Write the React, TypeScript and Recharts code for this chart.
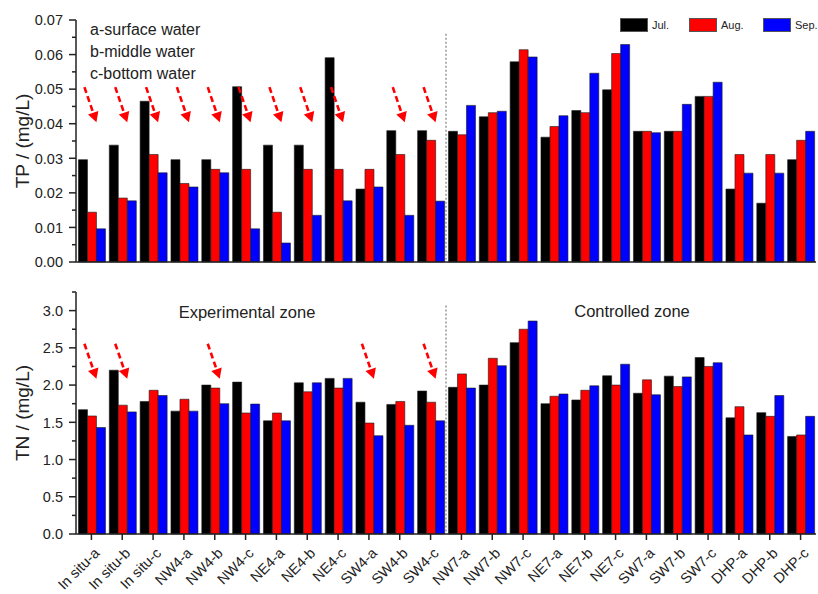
import React from "react";
import { BarChart, Bar, XAxis, YAxis, ReferenceDot, ReferenceArea } from "recharts";

const sites = [
  "In situ-a", "In situ-b", "In situ-c", "NW4-a", "NW4-b", "NW4-c",
  "NE4-a", "NE4-b", "NE4-c", "SW4-a", "SW4-b", "SW4-c",
  "NW7-a", "NW7-b", "NW7-c", "NE7-a", "NE7-b", "NE7-c",
  "SW7-a", "SW7-b", "SW7-c", "DHP-a", "DHP-b", "DHP-c",
];

const months = ["Jul.", "Aug.", "Sep."];
const monthKeys = ["jul", "aug", "sep"];
const monthColors = ["#000000", "#ff0000", "#0000ff"];

const tpJul = [0.0296, 0.0338, 0.0465, 0.0296, 0.0296, 0.0507, 0.0338, 0.0338, 0.0591, 0.0211, 0.038, 0.038, 0.0378, 0.042, 0.0579, 0.0361, 0.0438, 0.0498, 0.0378, 0.0378, 0.0479, 0.0211, 0.017, 0.0296];
const tpAug = [0.0144, 0.0185, 0.0311, 0.0227, 0.0268, 0.0268, 0.0144, 0.0268, 0.0268, 0.0268, 0.0311, 0.0352, 0.0368, 0.0432, 0.0614, 0.0392, 0.0432, 0.0603, 0.0378, 0.0378, 0.0479, 0.0311, 0.0311, 0.0352];
const tpSep = [0.0096, 0.0177, 0.0258, 0.0217, 0.0258, 0.0096, 0.0055, 0.0135, 0.0177, 0.0217, 0.0135, 0.0176, 0.0453, 0.0436, 0.0593, 0.0423, 0.0546, 0.0629, 0.0374, 0.0456, 0.052, 0.0257, 0.0257, 0.0378];

const tnJul = [1.67, 2.2, 1.78, 1.65, 2.0, 2.04, 1.52, 2.03, 2.09, 1.77, 1.74, 1.92, 1.97, 2.0, 2.57, 1.75, 1.8, 2.125, 1.89, 2.12, 2.37, 1.56, 1.63, 1.31];
const tnAug = [1.585, 1.73, 1.93, 1.81, 1.96, 1.625, 1.625, 1.91, 1.96, 1.49, 1.78, 1.77, 2.15, 2.36, 2.75, 1.85, 1.93, 2.0, 2.07, 1.98, 2.25, 1.71, 1.58, 1.33];
const tnSep = [1.43, 1.64, 1.86, 1.65, 1.75, 1.745, 1.52, 2.03, 2.09, 1.32, 1.46, 1.52, 1.96, 2.26, 2.86, 1.88, 1.99, 2.28, 1.87, 2.11, 2.3, 1.33, 1.86, 1.58];

// major + minor ticks
const tpTicks = [0, 0.005, 0.01, 0.015, 0.02, 0.025, 0.03, 0.035, 0.04, 0.045, 0.05, 0.055, 0.06, 0.065, 0.07];
const tnTicks = [0, 0.25, 0.5, 0.75, 1, 1.25, 1.5, 1.75, 2, 2.25, 2.5, 2.75, 3, 3.25];

// sites marked with red arrows
const tpArrowSites = ["In situ-a", "In situ-b", "In situ-c", "NW4-a", "NW4-b", "NW4-c", "NE4-a", "NE4-b", "NE4-c", "SW4-b", "SW4-c"];
const tnArrowSites = ["In situ-a", "In situ-b", "NW4-b", "SW4-a", "SW4-c"];
const tpArrowLevel = 0.0455;
const tnArrowLevel = 2.32;

const depthNotes = ["a-surface water", "b-middle water", "c-bottom water"];

const tpData = sites.map((site, i) => ({ site, jul: tpJul[i], aug: tpAug[i], sep: tpSep[i] }));
const tnData = sites.map((site, i) => ({ site, jul: tnJul[i], aug: tnAug[i], sep: tnSep[i] }));

const AXIS_X = 76;
const INK = "#222";
const FONT = '"Liberation Sans", Arial, sans-serif';

function makeYTick(isMajor: (v: number) => boolean, fmt: (v: number) => string) {
  return (props: any) => {
    const { y, payload } = props;
    const major = isMajor(payload.value);
    return (
      <g>
        <line x1={AXIS_X - (major ? 7 : 4)} x2={AXIS_X} y1={y} y2={y} stroke={INK} strokeWidth={1.5} />
        {major && (
          <text x={AXIS_X - 13} y={y} dy="0.36em" textAnchor="end" fontSize={14.5} fill={INK} fontFamily={FONT}>
            {fmt(payload.value)}
          </text>
        )}
      </g>
    );
  };
}

const TpTick = makeYTick((v) => Math.abs(v * 100 - Math.round(v * 100)) < 1e-6, (v) => v.toFixed(2));
const TnTick = makeYTick((v) => Math.abs(v * 2 - Math.round(v * 2)) < 1e-6, (v) => v.toFixed(1));

const SiteTick = (props: any) => {
  const { x, y, payload } = props;
  return (
    <g transform={`translate(${x + 9},${y + 12})`}>
      <text textAnchor="end" transform="rotate(-45)" fontSize={14.5} fill={INK} fontFamily={FONT}>
        {payload.value}
      </text>
    </g>
  );
};

const Arrow = (props: any) => {
  const { cx, cy } = props;
  const x1 = cx - 7, y1 = cy - 17.5, x2 = cx + 5, y2 = cy + 17.5;
  const len = Math.hypot(x2 - x1, y2 - y1);
  const ux = (x2 - x1) / len, uy = (y2 - y1) / len;
  const bx = x2 - ux * 10, by = y2 - uy * 10;
  const pts = `${x2},${y2} ${bx - uy * 5.5},${by + ux * 5.5} ${bx + uy * 5.5},${by - ux * 5.5}`;
  return (
    <g>
      <line x1={x1} y1={y1} x2={bx} y2={by} stroke="#ff0000" strokeWidth={2.6} strokeDasharray="6 3.5" />
      <polygon points={pts} fill="#ff0000" />
    </g>
  );
};

const Divider = (props: any) => {
  const { x, y, height } = props;
  return <line x1={x} x2={x} y1={y} y2={y + height} stroke="#888" strokeWidth={1.3} strokeDasharray="2 2" />;
};

const axisStyle = { stroke: INK, strokeWidth: 1.5 };

export default function App() {
  const bars = monthKeys.map((k, i) => (
    <Bar key={k} dataKey={k} name={months[i]} fill={monthColors[i]} stroke="#1a1a1a" strokeWidth={0.6} isAnimationActive={false} />
  ));
  return (
    <div style={{ position: "absolute", left: 0, top: 0, width: 818, height: 594, background: "#fff", overflow: "hidden", fontFamily: FONT }}>
      <BarChart width={818} height={280} data={tpData} margin={{ top: 20, right: 2, left: 0, bottom: 0 }} barCategoryGap="8%" barGap={0}>
        <XAxis dataKey="site" interval={0} height={18} tick={false} tickSize={6} tickLine={axisStyle} axisLine={axisStyle} />
        <YAxis width={AXIS_X} domain={[0, 0.07]} ticks={tpTicks} interval={0} tickLine={false} tick={TpTick} axisLine={axisStyle} />
        {bars}
        <ReferenceArea x1="NW7-a" x2="NW7-a" y1={0} y2={0.066} shape={Divider} />
        {tpArrowSites.map((s) => (
          <ReferenceDot key={s} x={s} y={tpArrowLevel} shape={Arrow} />
        ))}
      </BarChart>
      <BarChart width={818} height={314} data={tnData} margin={{ top: 12, right: 2, left: 0, bottom: 0 }} barCategoryGap="8%" barGap={0}>
        <XAxis dataKey="site" interval={0} height={60} tick={SiteTick} tickSize={6} tickMargin={2} tickLine={axisStyle} axisLine={axisStyle} />
        <YAxis width={AXIS_X} domain={[0, 3.25]} ticks={tnTicks} interval={0} tickLine={false} tick={TnTick} axisLine={axisStyle} />
        {bars}
        <ReferenceArea x1="NW7-a" x2="NW7-a" y1={0} y2={3.07} shape={Divider} />
        {tnArrowSites.map((s) => (
          <ReferenceDot key={s} x={s} y={tnArrowLevel} shape={Arrow} />
        ))}
      </BarChart>

      {/* legend */}
      <div style={{ position: "absolute", left: 620, top: 18, display: "flex", alignItems: "center", fontSize: 11, color: INK }}>
        {months.map((m, i) => (
          <div key={m} style={{ display: "flex", alignItems: "center", width: i === 0 ? 69 : 74 }}>
            <span style={{ display: "inline-block", width: 26, height: 12, background: monthColors[i], border: "1px solid #555", marginRight: 4 }} />
            <span>{m}</span>
          </div>
        ))}
      </div>

      <div style={{ position: "absolute", left: 90, top: 19, fontSize: 16, lineHeight: "22px", color: INK }}>
        {depthNotes.map((t) => (
          <div key={t}>{t}</div>
        ))}
      </div>
      <div style={{ position: "absolute", left: 247, top: 301, fontSize: 16.5, lineHeight: "22px", color: INK, transform: "translateX(-50%)", whiteSpace: "nowrap" }}>
        Experimental zone
      </div>
      <div style={{ position: "absolute", left: 632, top: 300, fontSize: 16.5, lineHeight: "22px", color: INK, transform: "translateX(-50%)", whiteSpace: "nowrap" }}>
        Controlled zone
      </div>
      <div style={{ position: "absolute", left: 23, top: 141, fontSize: 19, color: INK, transform: "translate(-50%, -50%) rotate(-90deg)", whiteSpace: "nowrap" }}>
        TP / (mg/L)
      </div>
      <div style={{ position: "absolute", left: 23, top: 413, fontSize: 19, color: INK, transform: "translate(-50%, -50%) rotate(-90deg)", whiteSpace: "nowrap" }}>
        TN / (mg/L)
      </div>
    </div>
  );
}
